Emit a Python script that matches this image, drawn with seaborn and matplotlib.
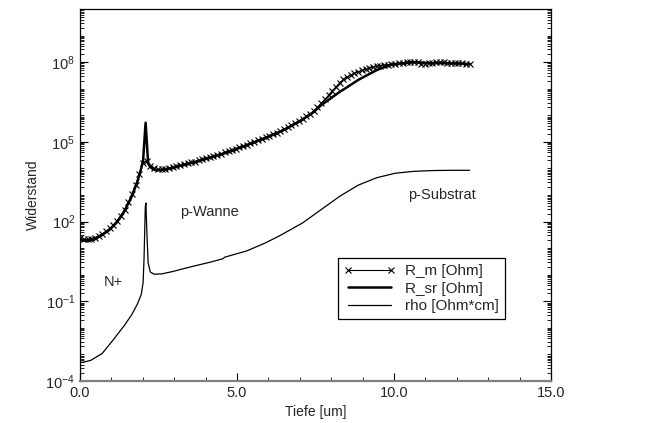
import numpy as np
import pandas as pd
import matplotlib
matplotlib.use("Agg")
import matplotlib.pyplot as plt
import seaborn as sns
from matplotlib.ticker import FixedLocator, LogLocator, MultipleLocator, LogFormatterSciNotation

# ---------------- data (resistances as log10 exponents) ----------------
depth_m = [0.00, 0.12, 0.24, 0.35, 0.47, 0.59, 0.71, 0.83, 0.95, 1.06,
           1.18, 1.30, 1.42, 1.54, 1.65, 1.77, 1.89, 2.01, 2.13, 2.24,
           2.36, 2.48, 2.60, 2.72, 2.84, 2.95, 3.07, 3.19, 3.31, 3.43,
           3.54, 3.66, 3.78, 3.90, 4.02, 4.14, 4.25, 4.37, 4.49, 4.61,
           4.73, 4.84, 4.96, 5.08, 5.20, 5.32, 5.43, 5.55, 5.67, 5.79,
           5.91, 6.03, 6.14, 6.26, 6.38, 6.50, 6.62, 6.73, 6.85, 6.97,
           7.09, 7.21, 7.33, 7.44, 7.56, 7.68, 7.80, 7.92, 8.03, 8.15,
           8.27, 8.39, 8.51, 8.62, 8.74, 8.86, 8.98, 9.10, 9.22, 9.33,
           9.45, 9.57, 9.69, 9.81, 9.92, 10.04, 10.16, 10.28, 10.40, 10.52,
           10.63, 10.75, 10.87, 10.99, 11.11, 11.22, 11.34, 11.46, 11.58, 11.70,
           11.82, 11.93, 12.05, 12.17, 12.29, 12.41]
r_m_exp = [1.38, 1.33, 1.33, 1.36, 1.40, 1.46, 1.54, 1.63, 1.74, 1.88,
           2.03, 2.22, 2.45, 2.72, 3.02, 3.38, 3.80, 4.22, 4.28, 4.10,
           4.00, 3.96, 3.96, 3.98, 4.01, 4.05, 4.08, 4.12, 4.16, 4.19,
           4.23, 4.26, 4.30, 4.34, 4.38, 4.42, 4.46, 4.50, 4.55, 4.60,
           4.65, 4.70, 4.75, 4.80, 4.85, 4.90, 4.95, 5.01, 5.06, 5.12,
           5.17, 5.23, 5.29, 5.35, 5.41, 5.47, 5.55, 5.62, 5.70, 5.78,
           5.87, 5.96, 6.06, 6.16, 6.30, 6.45, 6.60, 6.76, 6.92, 7.07,
           7.22, 7.35, 7.45, 7.52, 7.58, 7.64, 7.69, 7.73, 7.77, 7.81,
           7.84, 7.87, 7.89, 7.91, 7.92, 7.94, 7.95, 7.97, 7.99, 8.01,
           8.02, 7.99, 7.94, 7.93, 7.95, 7.97, 7.99, 8.00, 7.99, 7.97,
           7.96, 7.97, 7.96, 7.95, 7.94, 7.93]

depth_sr = [0.00, 0.24, 0.47, 0.71, 0.95, 1.18, 1.42, 1.65, 1.83, 1.95, 2.01, 2.09, 2.17,
            2.24, 2.33, 2.42, 2.60, 2.95, 3.54, 4.14, 4.73, 5.32, 5.91, 6.50, 7.09, 7.44,
            7.68, 8.27, 8.51, 8.86, 9.03, 9.45, 9.81, 10.04, 10.63, 11.22, 11.82, 12.41]
r_sr_exp = [1.30, 1.27, 1.33, 1.50, 1.70, 1.98, 2.40, 2.95, 3.50, 4.00, 4.30, 5.72, 4.20,
            4.05, 3.97, 3.93, 3.94, 4.02, 4.20, 4.40, 4.62, 4.88, 5.15, 5.45, 5.84, 6.12,
            6.38, 6.88, 7.06, 7.33, 7.44, 7.70, 7.87, 7.93, 8.00, 7.96, 7.96, 7.93]

depth_rho = [0.00, 0.12, 0.35, 0.71, 1.06, 1.42, 1.65, 1.83, 1.95, 2.01, 2.04, 2.08, 2.10,
             2.13, 2.17, 2.24, 2.36, 2.60, 2.95, 3.54, 4.14, 4.55, 4.61, 5.32, 5.91, 6.38,
             6.50, 7.09, 7.68, 8.27, 8.86, 9.45, 10.04, 10.63, 11.22, 11.82, 12.41]
rho_exp = [-3.30, -3.29, -3.22, -2.96, -2.45, -1.90, -1.50, -1.10, -0.75, -0.30, 0.60, 2.55, 2.70,
           1.60, 0.45, 0.10, 0.02, 0.03, 0.12, 0.30, 0.47, 0.60, 0.66, 0.90, 1.20, 1.48,
           1.56, 1.95, 2.45, 2.95, 3.37, 3.65, 3.82, 3.89, 3.92, 3.93, 3.93]

series_labels = ["R_m [Ohm]", "R_sr [Ohm]", "rho [Ohm*cm]"]
region_labels = ["N+", "p-Wanne", "p-Substrat"]
y_major_ticks = [1e-4, 1e-1, 1e2, 1e5, 1e8]

df_m = pd.DataFrame({"Tiefe": depth_m, "Wert": np.power(10.0, r_m_exp)})
df_sr = pd.DataFrame({"Tiefe": depth_sr, "Wert": np.power(10.0, r_sr_exp)})
df_rho = pd.DataFrame({"Tiefe": depth_rho, "Wert": np.power(10.0, rho_exp)})

# ---------------- style ----------------
sns.set_style("ticks")
plt.rcParams["font.family"] = ["Liberation Sans", "DejaVu Sans"]
plt.rcParams["mathtext.default"] = "regular"
plt.rcParams["font.size"] = 10

fig = plt.figure(figsize=(6.55, 4.23), dpi=100)
ax = fig.add_axes([0.1221, 0.0993, 0.7191, 0.8794])

sns.lineplot(data=df_m, x="Tiefe", y="Wert", ax=ax, color="black", lw=0.8,
             marker="x", markersize=4, markeredgewidth=0.8, markeredgecolor="black",
             sort=False, estimator=None, label=series_labels[0])
sns.lineplot(data=df_sr, x="Tiefe", y="Wert", ax=ax, color="black", lw=1.8,
             sort=False, estimator=None, label=series_labels[1])
sns.lineplot(data=df_rho, x="Tiefe", y="Wert", ax=ax, color="black", lw=0.9,
             sort=False, estimator=None, label=series_labels[2])

ax.set_yscale("log")
ax.set_xlim(0, 15)
ax.set_ylim(1e-4, 1e10)

ax.yaxis.set_major_locator(FixedLocator(y_major_ticks))
ax.yaxis.set_major_formatter(LogFormatterSciNotation())
ax.yaxis.set_minor_locator(LogLocator(base=10, subs=np.arange(1, 10), numticks=100))
ax.yaxis.set_minor_formatter(matplotlib.ticker.NullFormatter())
ax.xaxis.set_major_locator(MultipleLocator(5))
ax.xaxis.set_minor_locator(MultipleLocator(1))
ax.xaxis.set_major_formatter(matplotlib.ticker.FormatStrFormatter("%.1f"))

ax.tick_params(which="both", direction="in", right=True, top=False, color="black", labelsize=10.5)
ax.tick_params(which="major", length=6, width=0.8)
ax.tick_params(which="minor", length=3, width=0.6)

for s in ["left", "right", "top"]:
    ax.spines[s].set_color("black")
    ax.spines[s].set_linewidth(0.9)
ax.spines["bottom"].set_color("#808080")
ax.spines["bottom"].set_linewidth(1.6)

ax.set_xlabel("Tiefe [um]", fontsize=10)
ax.set_ylabel("Widerstand", fontsize=10)

ax.text(1.05, 10 ** -0.27, region_labels[0], ha="center", va="center", fontsize=10.5)
ax.text(3.2, 10 ** 2.36, region_labels[1], ha="left", va="center", fontsize=10.5)
ax.text(10.45, 10 ** 3.0, region_labels[2], ha="left", va="center", fontsize=10.5)

leg = ax.legend(loc="upper left", bbox_to_anchor=(0.547, 0.33), frameon=True, fancybox=False,
                edgecolor="black", framealpha=1, borderpad=0.4, labelspacing=0.22,
                handlelength=3.4, handletextpad=0.6, fontsize=11, numpoints=2,
                borderaxespad=0)
leg.get_frame().set_linewidth(0.9)

fig.savefig("out.png", dpi=100)
